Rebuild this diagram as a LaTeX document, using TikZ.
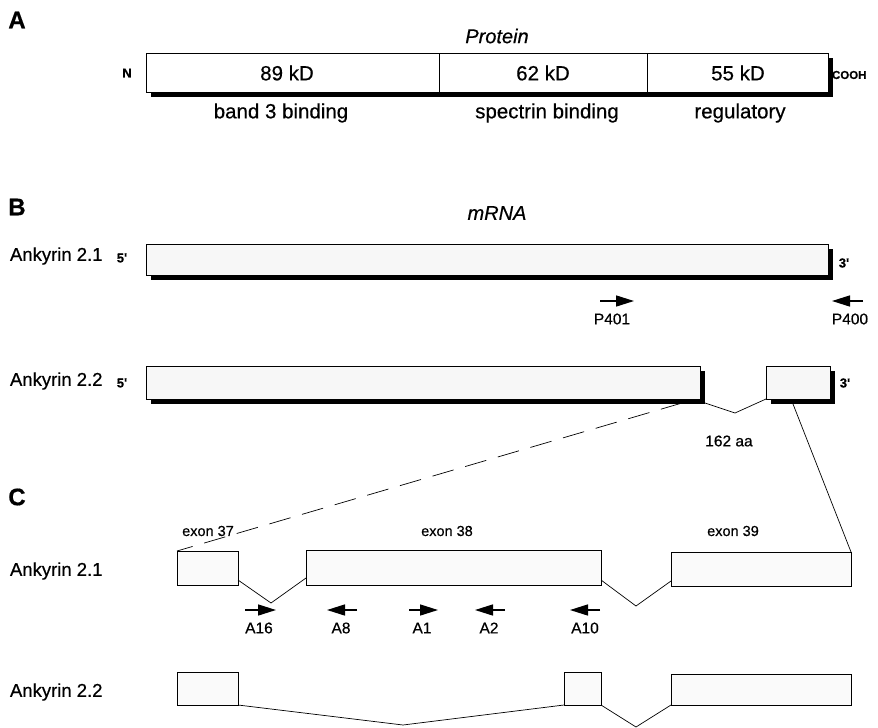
\documentclass[tikz,border=0pt]{standalone}
\usepackage{fontspec}
\setmainfont{Liberation Sans}[FakeBold=0.5]
\usetikzlibrary{arrows.meta,shadows,calc}
\begin{document}
\begin{tikzpicture}[x=1pt,y=-1pt,
  every node/.style={inner sep=0pt, outer sep=0pt},
  shbox/.style={draw, line width=0.8pt, fill=#1, anchor=north west,
    general shadow={fill=black, shadow xshift=4.5pt, shadow yshift=-4.5pt}},
  plbox/.style={draw, line width=0.8pt, fill=gray!4, anchor=north west},
  thinl/.style={line width=0.7pt},
  primer/.style={line width=1.5pt, -{Triangle[length=18pt, width=11pt]}},
  panel/.style={font=\fontsize{24}{26}\selectfont\bfseries},
  ttl/.style={font=\fontsize{20}{22}\selectfont\itshape},
  big/.style={font=\fontsize{20.5}{23}\selectfont},
  rowlab/.style={font=\fontsize{18.5}{21}\selectfont, anchor=west},
  endlab/.style={font=\fontsize{13}{15}\selectfont\bfseries},
  prim/.style={font=\fontsize{15.5}{17}\selectfont},
  exlab/.style={font=\fontsize{14.5}{16}\selectfont},
]
\useasboundingbox (0,0) rectangle (878,728);

% ---------- A ----------
\node[panel] (pa) at (17,20) {A};
\node[ttl] (tprot) at (497,36) {Protein};
\node[shbox=white, minimum width=682pt, minimum height=39pt] (prot) at (146,53) {};
\coordinate (d1) at (439,0);
\coordinate (d2) at (647,0);
\draw[thinl] (prot.north -| d1) -- (prot.south -| d1);
\draw[thinl] (prot.north -| d2) -- (prot.south -| d2);
\node[endlab] (nterm) at (127,73) {N};
\node[font=\fontsize{11.5}{13}\selectfont\bfseries, anchor=west] (cterm) at (832,75) {COOH};
\node[big] (k89) at (287,73) {89 kD};
\node[big] (k62) at (543,73) {62 kD};
\node[big] (k55) at (738,73) {55 kD};
\node[big] (f1) at (281,113) {band 3 binding};
\node[big] (f2) at (547,113) {spectrin binding};
\node[big] (f3) at (740,113) {regulatory};

% ---------- B ----------
\node[panel] (pb) at (17,207) {B};
\node[ttl] (tmrna) at (497,213) {mRNA};
\node[rowlab] (lb1) at (10,256) {Ankyrin 2.1};
\node[endlab] (b1five) at (122,258) {5\textquotesingle};
\node[shbox=gray!6, minimum width=682pt, minimum height=31pt] (m1) at (146,244) {};
\node[endlab] (b1three) at (844,263) {3\textquotesingle};

\coordinate (p401s) at (600,301);
\coordinate (p401e) at (634,301);
\draw[primer] (p401s) -- (p401e);
\node[prim] (lp401) at (612,319) {P401};
\coordinate (p400s) at (863,301);
\coordinate (p400e) at (832,301);
\draw[primer] (p400s) -- (p400e);
\node[prim] (lp400) at (850,319) {P400};

\node[rowlab] (lb2) at (10,381) {Ankyrin 2.2};
\node[endlab] (b2five) at (122,383) {5\textquotesingle};
\node[shbox=gray!6, minimum width=554pt, minimum height=33pt] (m2a) at (146,366) {};
\node[shbox=gray!6, minimum width=64pt, minimum height=33pt] (m2b) at (766,366) {};
\node[endlab] (b2three) at (845,383) {3\textquotesingle};
\coordinate (v0) at (735,413);
\draw[thinl] ($(m2a.south east)+(5,4)$) -- (v0) -- (m2b.south west);
\node[prim] (aa) at (729,441) {162 aa};

% ---------- C ----------
\node[panel] (pc) at (17,497) {C};
\node[exlab] (x37) at (208,531) {exon 37};
\node[exlab] (x38) at (447,531) {exon 38};
\node[exlab] (x39) at (733,531) {exon 39};

\node[rowlab] (lc1) at (10,571) {Ankyrin 2.1};
\node[plbox, minimum width=61pt, minimum height=34pt] (e37a) at (177,551) {};
\node[plbox, minimum width=295pt, minimum height=35pt] (e38a) at (306,550) {};
\node[plbox, minimum width=180pt, minimum height=34pt] (e39a) at (671,552) {};
\coordinate (va1) at (271,603);
\coordinate (va2) at (636,606);
\draw[thinl] ($(e37a.south east)+(0,-5)$) -- (va1) -- ($(e38a.south west)+(0,-7)$);
\draw[thinl] ($(e38a.south east)+(0,-5)$) -- (va2) -- ($(e39a.south west)+(0,-5)$);

% zoom connectors from panel B
\coordinate (dstart) at (682,403);
\coordinate (sstart) at (793,404);
\draw[thinl, dash pattern=on 22pt off 12pt] (dstart) -- (e37a.north west);
\draw[thinl] (sstart) -- (e39a.north east);

% primers
\coordinate (a16s) at (245,610);  \coordinate (a16e) at (276,610);
\coordinate (a8s) at (357,610);   \coordinate (a8e) at (327,610);
\coordinate (a1s) at (409,610);   \coordinate (a1e) at (438,610);
\coordinate (a2s) at (505,610);   \coordinate (a2e) at (475,610);
\coordinate (a10s) at (600,610);  \coordinate (a10e) at (570,610);
\draw[primer] (a16s) -- (a16e);
\draw[primer] (a8s) -- (a8e);
\draw[primer] (a1s) -- (a1e);
\draw[primer] (a2s) -- (a2e);
\draw[primer] (a10s) -- (a10e);
\node[prim] (la16) at (259,628) {A16};
\node[prim] (la8) at (341,628) {A8};
\node[prim] (la1) at (422,628) {A1};
\node[prim] (la2) at (489,628) {A2};
\node[prim] (la10) at (585,628) {A10};

\node[rowlab] (lc2) at (10,692) {Ankyrin 2.2};
\node[plbox, minimum width=61pt, minimum height=33pt] (e37b) at (177,672) {};
\node[plbox, minimum width=37pt, minimum height=33pt] (e38b) at (564,672) {};
\node[plbox, minimum width=180pt, minimum height=31pt] (e39b) at (671,674) {};
\coordinate (vb1) at (403,725);
\coordinate (vb2) at (636,727);
\draw[thinl] (e37b.south east) -- (vb1) -- (e38b.south west);
\draw[thinl] (e38b.south east) -- (vb2) -- (e39b.south west);
\end{tikzpicture}
\end{document}
